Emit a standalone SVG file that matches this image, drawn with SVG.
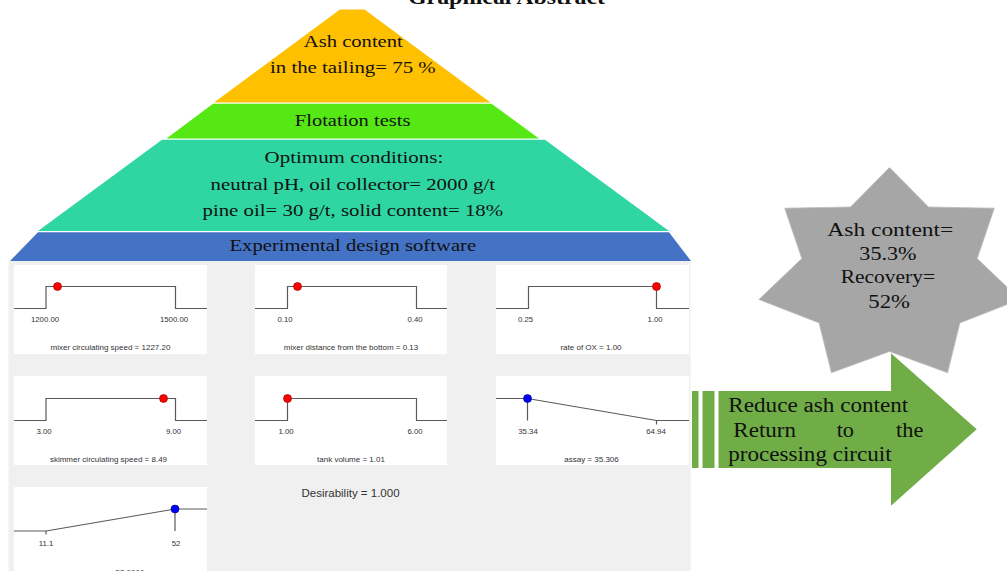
<svg xmlns="http://www.w3.org/2000/svg" width="1007" height="571" viewBox="0 0 1007 571">
  <style>
    .serif { font-family: "Liberation Serif", "Times New Roman", serif; fill: #111; }
    .pyr { font-size: 17.5px; }
    .big { font-size: 19.5px; }
    .sans { font-family: "Liberation Sans", Arial, sans-serif; fill: #333; }
    .tick { font-size: 7.8px; text-anchor: middle; }
    .lab { font-size: 8px; text-anchor: middle; }
    .curve { fill: none; stroke: #5a5a5a; stroke-width: 1.2; }
    .panel { fill: #ffffff; }
    .red { fill: #ff0000; stroke: #8a0000; stroke-width: 0.6; }
    .blue { fill: #0000ff; stroke: #00006a; stroke-width: 0.6; }
  </style>

  <rect x="0" y="0" width="1007" height="571" fill="#ffffff"/>

  <g id="title">
    <text class="serif" x="408" y="3.5" font-size="20" font-weight="bold" textLength="197" lengthAdjust="spacingAndGlyphs">Graphical Abstract</text>
  </g>

  <g id="layer-ash">
    <polygon points="340,9.5 364.5,9.5 490.5,102.5 214,102.5" fill="#ffc000"/>
    <text class="serif pyr" x="303.8" y="47" textLength="99" lengthAdjust="spacingAndGlyphs">Ash content</text>
    <text class="serif pyr" x="270" y="73" textLength="165.6" lengthAdjust="spacingAndGlyphs">in the tailing= 75 %</text>
  </g>

  <g id="layer-flotation">
    <polygon points="213,103.8 491.5,103.8 539,138.5 166.5,138.5" fill="#55e815"/>
    <text class="serif pyr" x="294.8" y="126" textLength="115.6" lengthAdjust="spacingAndGlyphs">Flotation tests</text>
  </g>

  <g id="layer-optimum">
    <polygon points="162,139.8 545,139.8 669,231 38,231" fill="#2fd6a1"/>
    <text class="serif pyr" x="264.6" y="163" textLength="178.7" lengthAdjust="spacingAndGlyphs">Optimum conditions:</text>
    <text class="serif pyr" x="210.6" y="189.5" textLength="284.4" lengthAdjust="spacingAndGlyphs">neutral pH, oil collector= 2000 g/t</text>
    <text class="serif pyr" x="202.5" y="216" textLength="300.6" lengthAdjust="spacingAndGlyphs">pine oil= 30 g/t, solid content= 18%</text>
  </g>

  <g id="layer-software">
    <polygon points="38,232.3 669,232.3 691,261 10,261" fill="#4472c4"/>
    <text class="serif pyr" x="229.5" y="250.5" textLength="246.6" lengthAdjust="spacingAndGlyphs">Experimental design software</text>
  </g>

  <g id="desirability-panel">
    <rect x="8.5" y="261" width="682" height="310" fill="#f0f0f0"/>

    <g id="plot-mixer-speed">
      <rect class="panel" x="14" y="265" width="193" height="89"/>
      <path class="curve" d="M14 308.5 H46 V286.5 H175.5 V308.5 H207"/>
      <circle class="red" cx="57.5" cy="286.5" r="4"/>
      <text class="sans tick" x="45" y="322">1200.00</text>
      <text class="sans tick" x="174" y="322">1500.00</text>
      <text class="sans lab" x="110.5" y="350">mixer circulating speed = 1227.20</text>
    </g>

    <g id="plot-mixer-distance">
      <rect class="panel" x="255" y="265" width="192" height="89"/>
      <path class="curve" d="M255 308.5 H287.5 V286.5 H416.5 V308.5 H447"/>
      <circle class="red" cx="297.5" cy="286.5" r="4"/>
      <text class="sans tick" x="285" y="322">0.10</text>
      <text class="sans tick" x="415" y="322">0.40</text>
      <text class="sans lab" x="351" y="350">mixer distance from the bottom = 0.13</text>
    </g>

    <g id="plot-rate-ox">
      <rect class="panel" x="496" y="265" width="193" height="89"/>
      <path class="curve" d="M496 308.5 H528.5 V286.5 H656.5 V308.5 H689"/>
      <circle class="red" cx="656.5" cy="286.5" r="4"/>
      <text class="sans tick" x="525.5" y="322">0.25</text>
      <text class="sans tick" x="655" y="322">1.00</text>
      <text class="sans lab" x="591" y="350">rate of OX = 1.00</text>
    </g>

    <g id="plot-skimmer-speed">
      <rect class="panel" x="14" y="376" width="193" height="89"/>
      <path class="curve" d="M14 420.5 H46 V398.5 H175.5 V420.5 H207"/>
      <circle class="red" cx="163.5" cy="398.5" r="4"/>
      <text class="sans tick" x="44" y="434">3.00</text>
      <text class="sans tick" x="173.5" y="434">9.00</text>
      <text class="sans lab" x="108.5" y="461.5">skimmer circulating speed = 8.49</text>
    </g>

    <g id="plot-tank-volume">
      <rect class="panel" x="255" y="376" width="192" height="89"/>
      <path class="curve" d="M255 420.5 H287.5 V398.5 H416.5 V420.5 H447"/>
      <circle class="red" cx="287.5" cy="398.5" r="4"/>
      <text class="sans tick" x="286" y="434">1.00</text>
      <text class="sans tick" x="415" y="434">6.00</text>
      <text class="sans lab" x="351" y="461.5">tank volume = 1.01</text>
    </g>

    <g id="plot-assay">
      <rect class="panel" x="496" y="376" width="193" height="89"/>
      <path class="curve" d="M496 398.5 H527.5 L656.5 420.5 H689 M527.5 398.5 V420.5 M656.5 420.5 V424.5"/>
      <circle class="blue" cx="527.5" cy="398.5" r="4"/>
      <text class="sans tick" x="528" y="434">35.34</text>
      <text class="sans tick" x="656" y="434">64.94</text>
      <text class="sans lab" x="591.5" y="461.5">assay = 35.306</text>
    </g>

    <g id="plot-recovery">
      <rect class="panel" x="14" y="487" width="193" height="90"/>
      <path class="curve" d="M14 531 H46 L175 509 H207 M46 531 V534.5 M175 509 V531"/>
      <circle class="blue" cx="175" cy="509" r="4"/>
      <text class="sans tick" x="46" y="546">11.1</text>
      <text class="sans tick" x="176" y="546">52</text>
      <text class="sans lab" x="110" y="574.5">recovery = 52.9966</text>
    </g>

    <text id="desirability" class="sans" x="350.5" y="497" font-size="11.5" text-anchor="middle" fill="#222">Desirability = 1.000</text>
  </g>

  <g id="result-star">
    <polygon points="889.5,167.5 928.5,207 994.3,208.2 977.2,258.6 1020.1,299.5 959.9,322.9 947.6,372.8 889.5,351.5 831.4,372.8 819.1,322.9 758.9,299.5 801.8,258.6 784.7,208.2 850.5,207" fill="#a6a6a6" stroke="#bdbdbd" stroke-width="0.8"/>
    <text class="serif big" x="827.3" y="236" textLength="126" lengthAdjust="spacingAndGlyphs">Ash content=</text>
    <text class="serif big" x="859.3" y="260" textLength="57.3" lengthAdjust="spacingAndGlyphs">35.3%</text>
    <text class="serif big" x="840.7" y="283" textLength="94.3" lengthAdjust="spacingAndGlyphs">Recovery=</text>
    <text class="serif big" x="868.3" y="308" textLength="41.7" lengthAdjust="spacingAndGlyphs">52%</text>
  </g>

  <g id="arrow-reduce">
    <rect x="692" y="391" width="6.5" height="77" fill="#70ad47"/>
    <rect x="702.5" y="391" width="12" height="77" fill="#70ad47"/>
    <polygon points="718.5,391 891,391 891,353.3 976.7,429.3 891,505.7 891,468 718.5,468" fill="#70ad47"/>
    <text class="serif" font-size="20" x="728.3" y="412" textLength="180" lengthAdjust="spacingAndGlyphs">Reduce ash content</text>
    <text class="serif" font-size="20" y="437"><tspan x="733.3" textLength="62.7" lengthAdjust="spacingAndGlyphs">Return</tspan><tspan x="836.7" textLength="17.3" lengthAdjust="spacingAndGlyphs">to</tspan><tspan x="896" textLength="27.3" lengthAdjust="spacingAndGlyphs">the</tspan></text>
    <text class="serif" font-size="20" x="728.3" y="461" textLength="163.3" lengthAdjust="spacingAndGlyphs">processing circuit</text>
  </g>
</svg>
